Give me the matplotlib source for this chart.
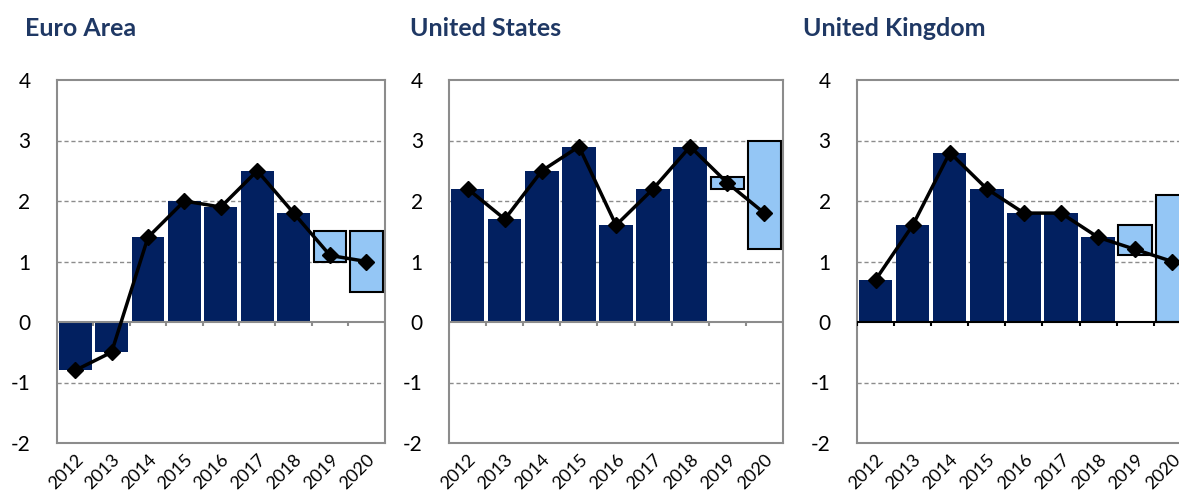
import numpy as np
import matplotlib.pyplot as plt

plt.rcParams['font.family'] = ['Lato', 'DejaVu Sans']

years = ['2012', '2013', '2014', '2015', '2016', '2017', '2018', '2019', '2020']
titles = ['Euro Area', 'United States', 'United Kingdom']

# outturns 2012-2018 (bars)
ea_bars = [-0.8, -0.5, 1.4, 2.0, 1.9, 2.5, 1.8]
us_bars = [2.2, 1.7, 2.5, 2.9, 1.6, 2.2, 2.9]
uk_bars = [0.7, 1.6, 2.8, 2.2, 1.8, 1.8, 1.4]

# forecast ranges 2019-2020 (low, high)
ea_low = [1.0, 0.5]
ea_high = [1.5, 1.5]
us_low = [2.2, 1.2]
us_high = [2.4, 3.0]
uk_low = [1.1, 0.0]
uk_high = [1.6, 2.1]

# line (outturn + central forecast)
ea_line = [-0.8, -0.5, 1.4, 2.0, 1.9, 2.5, 1.8, 1.1, 1.0]
us_line = [2.2, 1.7, 2.5, 2.9, 1.6, 2.2, 2.9, 2.3, 1.8]
uk_line = [0.7, 1.6, 2.8, 2.2, 1.8, 1.8, 1.4, 1.2, 1.0]

bars = [ea_bars, us_bars, uk_bars]
lows = [ea_low, us_low, uk_low]
highs = [ea_high, us_high, uk_high]
lines = [ea_line, us_line, uk_line]

navy = '#022060'
light = '#94C6F5'
grey = '#8c8c8c'

fig = plt.figure(figsize=(11.79, 5), dpi=100)
lefts = [0.0483, 0.381, 0.727]
widths = [0.278, 0.283, 0.283]
title_x = [25, 410, 803]
zero_col = [grey, grey, 'black']

x = np.arange(len(years))
for i in range(3):
    ax = fig.add_axes([lefts[i], 0.114, widths[i], 0.726])
    nb = len(bars[i])
    ax.bar(x[:nb], bars[i], width=0.9, color=navy, zorder=2)
    lo = np.array(lows[i])
    hi = np.array(highs[i])
    ax.bar(x[nb:], hi - lo, bottom=lo, width=0.9, color=light,
           edgecolor='black', linewidth=1.5, zorder=2)
    ax.plot(x, lines[i], color='black', lw=2.5, marker='D', ms=8, zorder=4)

    for yv in [-1, 1, 2, 3]:
        ax.axhline(yv, color=grey, lw=1, ls=(0, (3, 2)), zorder=1)
    ax.axhline(0, color=zero_col[i], lw=1.5, zorder=3)
    ax.vlines(np.arange(len(years) + 1) - 0.5, -0.07, 0, color=zero_col[i], lw=1.5, zorder=3)

    ax.set_xlim(-0.5, len(years) - 0.5)
    ax.set_ylim(-2, 4)
    ax.set_yticks([-2, -1, 0, 1, 2, 3, 4])
    ax.set_yticklabels(['-2', '-1', '0', '1', '2', '3', '4'], fontsize=15)
    ax.set_xticks(x)
    ax.set_xticklabels(years, rotation=45, ha='right', va='top', fontsize=13,
                       rotation_mode='anchor')
    ax.tick_params(axis='y', length=0, pad=19)
    ax.tick_params(axis='x', length=0, pad=6)
    for s in ax.spines.values():
        s.set_color(grey)
        s.set_linewidth(1.5)
    fig.text(title_x[i] / 1179, 1 - 28 / 500, titles[i], fontsize=18,
             fontweight='bold', color='#1F3864', va='center', ha='left')

fig.savefig('out.png', dpi=100)
